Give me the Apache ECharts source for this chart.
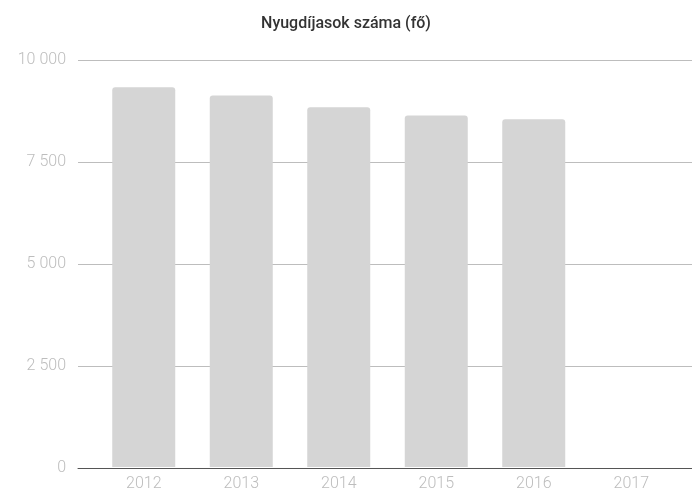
<!DOCTYPE html>
<html>
<head>
<meta charset="utf-8">
<script src="https://cdn.jsdelivr.net/npm/echarts@6/dist/echarts.min.js"></script>
<style>html,body{margin:0;padding:0;background:#fff}#c{width:692px;height:492px}</style>
</head>
<body>
<div id="c"></div>
<script>
const titleText = 'Nyugdíjasok száma (fő)';
const categories = ['2012', '2013', '2014', '2015', '2016', '2017'];
const pensioners = [9330, 9125, 8840, 8635, 8546, null];
const yMin = 0, yMax = 10000, yStep = 2500;

const fmt = v => String(v).replace(/\B(?=(\d{3})+(?!\d))/g, ' ');

const chart = echarts.init(document.getElementById('c'));
chart.setOption({
  animation: false,
  backgroundColor: '#fff',
  title: {
    text: titleText, left: 'center', top: 11,
    textStyle: { fontFamily: 'Roboto', fontSize: 16, fontWeight: 500, color: '#333' }
  },
  grid: [
    { left: 78, right: 0, top: 60, bottom: 24 },
    { left: 95, right: 12, top: 60, bottom: 24 }
  ],
  xAxis: [
    { type: 'category', gridIndex: 0, data: categories, show: true,
      axisLine: { show: true, lineStyle: { color: '#555', width: 1 } },
      axisTick: { show: false }, axisLabel: { show: false }, splitLine: { show: false } },
    { type: 'category', gridIndex: 1, data: categories,
      axisLine: { show: false }, axisTick: { show: false },
      axisLabel: { color: '#bdbdbd', fontFamily: 'Roboto', fontWeight: 300, fontSize: 16, margin: 9 } }
  ],
  yAxis: [
    { type: 'value', gridIndex: 0, min: yMin, max: yMax, interval: yStep,
      axisLine: { show: false }, axisTick: { show: false },
      axisLabel: { color: '#bdbdbd', fontFamily: 'Roboto', fontWeight: 300, fontSize: 16, margin: 12, formatter: fmt },
      splitLine: { lineStyle: { color: '#bdbdbd', width: 1 } } },
    { type: 'value', gridIndex: 1, min: yMin, max: yMax, interval: yStep, show: false, splitLine: { show: false } }
  ],
  series: [{
    type: 'bar', xAxisIndex: 1, yAxisIndex: 1, data: pensioners,
    barWidth: 63,
    itemStyle: { color: '#d5d5d5', borderRadius: [3, 3, 0, 0] }
  }]
});
</script>
</body>
</html>
